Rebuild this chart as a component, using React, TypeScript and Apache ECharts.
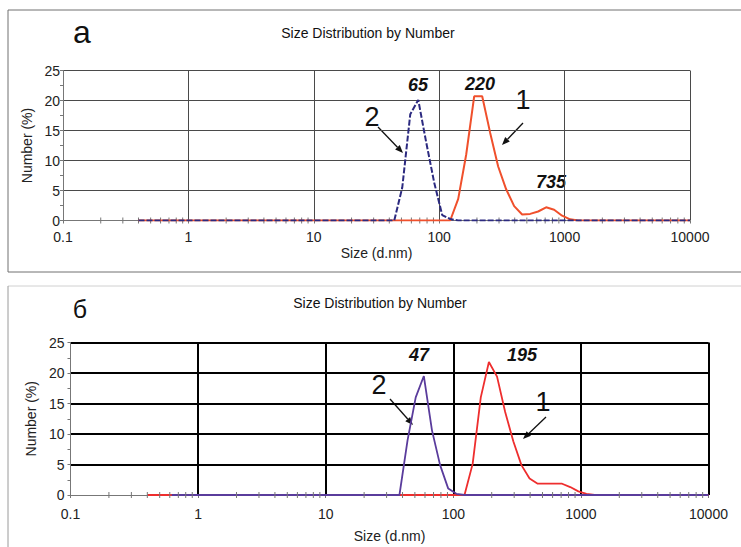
import React, { useEffect, useRef } from "react";
import * as echarts from "echarts";

// ---- data ----
const xTickLabels = ["0.1", "1", "10", "100", "1000", "10000"];
const minorMultipliers = [2, 3, 4, 5, 6, 7, 8, 9];
const decades = [0.1, 1, 10, 100, 1000];

// Panel а
const aRedSizes = [0.4, 122.4, 141.8, 164.2, 190.1, 220.2, 255, 295.3, 342, 396.1, 458.7, 531.2, 615.1, 712.4, 825, 955.4, 1106, 1281, 10000];
const aRedValues = [0, 0, 3.6, 11, 20.7, 20.7, 14.6, 9, 5.2, 2.4, 1.0, 1.1, 1.5, 2.2, 1.8, 0.8, 0.2, 0, 0];
const aBlueSizes = [0.4, 43.82, 50.75, 58.77, 68.06, 78.82, 91.28, 105.7, 122.4, 141.8, 10000];
const aBlueValues = [0, 0, 5.5, 17.7, 20.1, 13, 6.3, 0.9, 0.25, 0, 0];

// Panel б
const bRedSizes = [0.4, 122.4, 141.8, 164.2, 190.1, 220.2, 255, 295.3, 342, 396.1, 458.7, 531.2, 615.1, 712.4, 825, 955.4, 1106, 1281, 10000];
const bRedValues = [0, 0, 5.1, 16, 21.8, 19.4, 13.6, 8.8, 4.9, 2.7, 1.85, 1.85, 1.85, 1.85, 1.3, 0.6, 0.2, 0, 0];
const bBlueSizes = [0.6213, 37.84, 43.82, 50.75, 58.77, 68.06, 78.82, 91.28, 105.7, 122.4, 10000];
const bBlueValues = [0, 0, 9, 16, 19.5, 10.6, 4.9, 1.05, 0.2, 0, 0];

const minorTicks = decades.flatMap((d) => minorMultipliers.map((m) => +(d * m).toPrecision(3)));

const FONT = '"Liberation Sans", Arial, sans-serif';

function pairs(xs: number[], ys: number[]) {
  return xs.map((x, i) => [x, ys[i]]);
}

function arrow(x1: number, y1: number, x2: number, y2: number) {
  const dx = x2 - x1;
  const dy = y2 - y1;
  const L = Math.hypot(dx, dy);
  const ux = dx / L;
  const uy = dy / L;
  const hl = 8;
  const hw = 3.2;
  const bx = x2 - ux * hl;
  const by = y2 - uy * hl;
  return [
    { type: "line", shape: { x1, y1, x2: bx, y2: by }, style: { stroke: "#111", lineWidth: 1.3 } },
    {
      type: "polygon",
      shape: { points: [[x2, y2], [bx - uy * hw, by + ux * hw], [bx + uy * hw, by - ux * hw]] },
      style: { fill: "#111" },
    },
  ];
}

function txt(text: string, x: number, y: number, size: number, opts: any = {}) {
  return {
    type: "text",
    x,
    y,
    style: {
      text,
      fill: "#111",
      fontSize: size,
      fontFamily: FONT,
      fontWeight: opts.bold ? "bold" : "normal",
      fontStyle: opts.italic ? "italic" : "normal",
      align: "center",
      verticalAlign: "middle",
    },
  };
}

function xAxisCfg(gridIndex: number, gridColor: string, gridWidth: number, margin: number, nameGap: number) {
  return {
    gridIndex,
    type: "log",
    logBase: 10,
    min: 0.1,
    max: 10000,
    splitNumber: 5,
    name: "Size (d.nm)",
    nameLocation: "middle",
    nameGap,
    nameTextStyle: { fontSize: 14, color: "#222", fontFamily: FONT },
    axisLine: { show: true, lineStyle: { color: "#777", width: 1 } },
    axisTick: { show: true, length: 3, lineStyle: { color: "#777" } },
    axisLabel: {
      fontSize: 14,
      color: "#222",
      fontFamily: FONT,
      margin,
      formatter: (v: number) => {
        const i = Math.round(Math.log10(v)) + 1;
        return xTickLabels[i] ?? "";
      },
    },
    splitLine: { show: true, showMinLine: false, lineStyle: { color: gridColor, width: gridWidth } },
  };
}

function yAxisCfg(gridIndex: number, gridColor: string, gridWidth: number, margin: number, nameGap: number) {
  return {
    gridIndex,
    type: "value",
    min: 0,
    max: 25,
    interval: 5,
    name: "Number (%)",
    nameLocation: "middle",
    nameGap,
    nameRotate: 90,
    nameTextStyle: { fontSize: 14, color: "#222", fontFamily: FONT },
    axisLine: { show: true, lineStyle: { color: "#777", width: 1 } },
    axisTick: { show: true, length: 3, lineStyle: { color: "#777" } },
    minorTick: { show: true, splitNumber: 2, length: 3, lineStyle: { color: "#777" } },
    axisLabel: { fontSize: 14, color: "#222", fontFamily: FONT, margin },
    splitLine: { show: true, showMinLine: false, lineStyle: { color: gridColor, width: gridWidth } },
  };
}

function minorTickSeries(idx: number, z: number) {
  return {
    type: "custom",
    xAxisIndex: idx,
    yAxisIndex: idx,
    z,
    silent: true,
    data: minorTicks.map((v) => [v, 0]),
    renderItem: (_p: any, api: any) => {
      const c = api.coord([api.value(0), 0]);
      return {
        type: "line",
        shape: { x1: c[0], y1: c[1] - 3, x2: c[0], y2: c[1] + 3 },
        style: { stroke: "#777", lineWidth: 1 },
      };
    },
  };
}

export default function App() {
  const ref = useRef<HTMLDivElement>(null);
  useEffect(() => {
    if (!ref.current) return;
    const chart = echarts.init(ref.current, undefined, { renderer: "svg" });
    const option: any = {
      animation: false,
      backgroundColor: "#ffffff",
      textStyle: { fontFamily: FONT },
      grid: [
        { left: 63, top: 70.5, width: 627, height: 150 },
        { left: 70.5, top: 342.5, width: 638, height: 152.5 },
      ],
      xAxis: [xAxisCfg(0, "#4a4a4a", 1, 9, 25), xAxisCfg(1, "#000000", 2, 12, 34)],
      yAxis: [yAxisCfg(0, "#4a4a4a", 1, 3, 28), yAxisCfg(1, "#000000", 2, 6, 31)],
      series: [
        minorTickSeries(0, 1),
        minorTickSeries(1, 6),
        {
          type: "line",
          xAxisIndex: 0,
          yAxisIndex: 0,
          data: pairs(aRedSizes, aRedValues),
          showSymbol: false,
          symbol: "none",
          z: 3,
          lineStyle: { color: "#f0502c", width: 2 },
        },
        {
          type: "line",
          xAxisIndex: 0,
          yAxisIndex: 0,
          data: pairs(aBlueSizes, aBlueValues),
          showSymbol: false,
          symbol: "none",
          z: 4,
          lineStyle: { color: "#2c2a80", width: 2, type: [6, 2] },
        },
        {
          type: "line",
          xAxisIndex: 1,
          yAxisIndex: 1,
          data: pairs(bRedSizes, bRedValues),
          showSymbol: false,
          symbol: "none",
          z: 3,
          lineStyle: { color: "#ee2e2e", width: 1.8 },
        },
        {
          type: "line",
          xAxisIndex: 1,
          yAxisIndex: 1,
          data: pairs(bBlueSizes, bBlueValues),
          showSymbol: false,
          symbol: "none",
          z: 4,
          lineStyle: { color: "#5a3c9c", width: 1.8 },
        },
      ],
      graphic: [
        { type: "rect", shape: { x: 8, y: 10, width: 745, height: 262 }, style: { fill: "none", stroke: "#707070", lineWidth: 1 } },
        { type: "line", shape: { x1: 8, y1: 286, x2: 741, y2: 286 }, style: { stroke: "#d0d0d0", lineWidth: 1 } },
        { type: "line", shape: { x1: 8, y1: 286, x2: 8, y2: 547 }, style: { stroke: "#9a9a9a", lineWidth: 1 } },
        txt("Size Distribution by Number", 368, 33, 14),
        txt("Size Distribution by Number", 380, 303, 14),
        txt("а", 82, 32, 32),
        txt("б", 80, 309, 25),
        // panel а annotations
        txt("65", 418, 85, 18, { bold: true, italic: true }),
        txt("220", 480, 84, 18, { bold: true, italic: true }),
        txt("735", 551, 182, 18, { bold: true, italic: true }),
        txt("2", 372, 117, 27),
        txt("1", 523, 100, 27),
        ...arrow(378, 127, 403, 153),
        ...arrow(523, 123, 502, 145),
        // panel б annotations
        txt("47", 419, 355, 18, { bold: true, italic: true }),
        txt("195", 522, 355, 18, { bold: true, italic: true }),
        txt("2", 379, 385, 27),
        txt("1", 543, 402, 27),
        ...arrow(390, 399, 413, 425),
        ...arrow(546, 417, 523, 439),
      ],
    };
    chart.setOption(option);
    return () => chart.dispose();
  }, []);
  return <div ref={ref} style={{ position: "fixed", left: 0, top: 0, width: 741, height: 547 }} />;
}
